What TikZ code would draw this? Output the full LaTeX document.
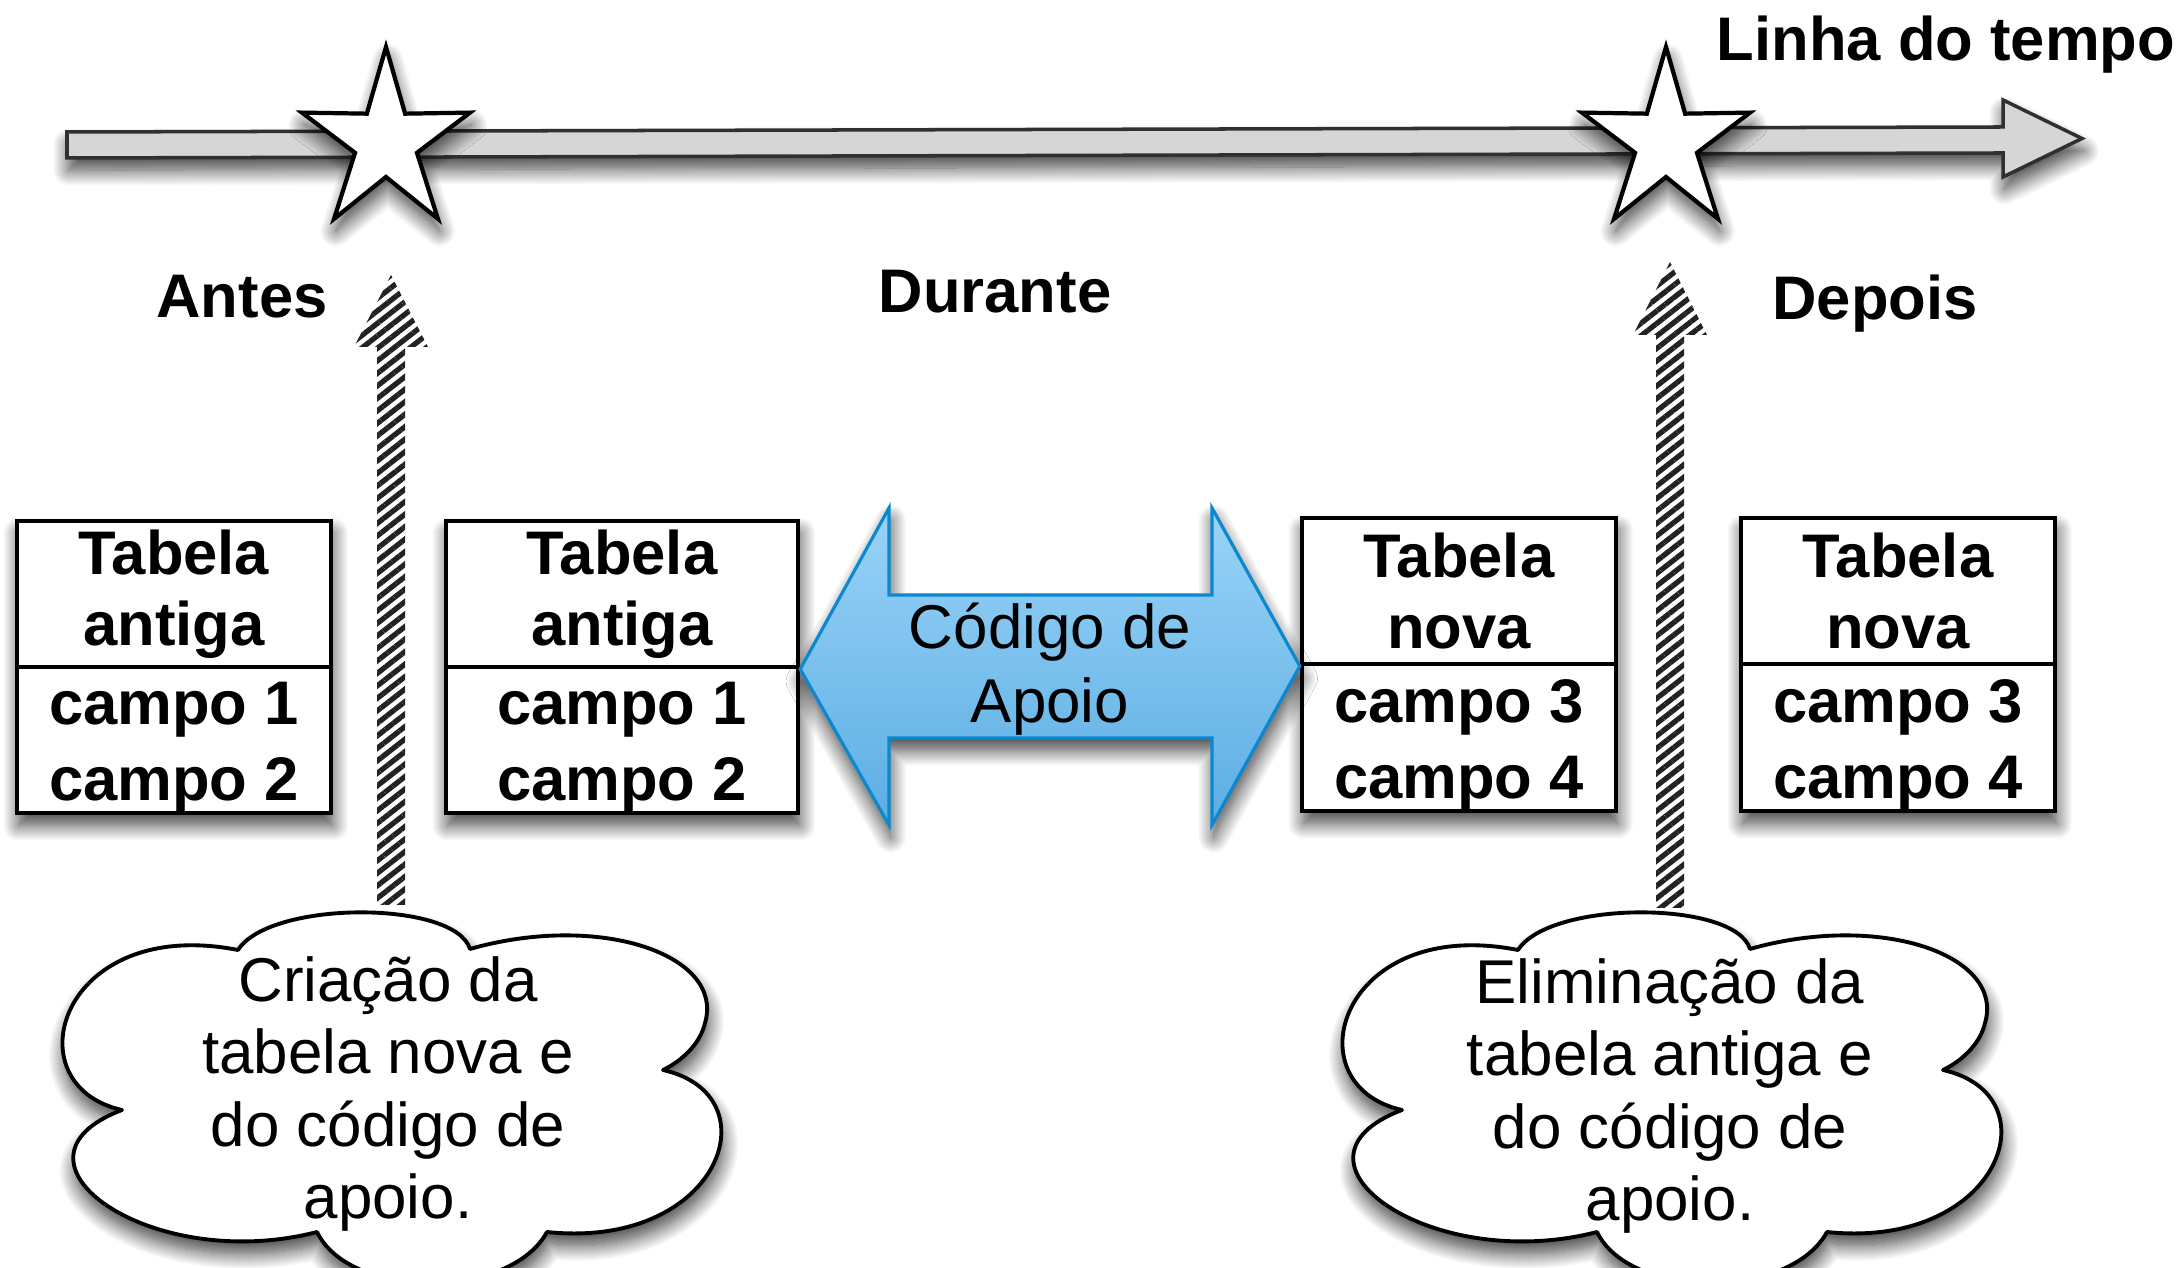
\documentclass[tikz,border=0pt]{standalone}
\usepackage{fontspec}
\setmainfont{Liberation Sans}
\usetikzlibrary{shadows.blur,patterns.meta,calc}
\definecolor{barfill}{HTML}{D6D6D6}
\definecolor{barline}{HTML}{303030}
\definecolor{arrowline}{HTML}{0B88D0}
\definecolor{arrowtop}{HTML}{9AD3F8}
\definecolor{arrowbot}{HTML}{5BAEE3}
\definecolor{stripe}{HTML}{222222}
\newcommand\bodystrut{\rule{0pt}{16.5pt}}
\tikzset{
  softshadow/.style={blur shadow={shadow xshift=0.5pt, shadow yshift=-3.5pt, shadow blur radius=4.5pt, shadow blur steps=16, shadow opacity=75}},
  barstyle/.style={fill=barfill, draw=barline, line width=1pt, line join=miter, softshadow},
  starstyle/.style={fill=white, draw=black, line width=1.2pt, line join=miter, softshadow},
  lbl/.style={font=\bfseries\fontsize{17.5}{21}\selectfont, inner sep=0pt},
  tblbox/.style={draw=black, line width=1.2pt, fill=white, inner sep=0pt, softshadow},
  tblhead/.style={draw=black, line width=1.2pt, fill=white, inner sep=0pt, align=center, font=\bfseries\fontsize{17.5}{20.2}\selectfont},
  tblbody/.style={draw=black, line width=1.2pt, fill=white, inner sep=0pt, align=center, font=\bfseries\fontsize{17.5}{21.6}\selectfont},
  bigarrow/.style={draw=arrowline, line width=0.9pt, line join=miter, top color=arrowtop, bottom color=arrowbot, softshadow},
  arrowtext/.style={font=\fontsize{17.6}{21}\selectfont, align=center, inner sep=0pt},
  stripes/.style={pattern={Lines[angle=38,distance=2.8pt,line width=1.5pt]}, pattern color=stripe},
  cloudstyle/.style={fill=white, draw=black, line width=1.1pt, line join=round, softshadow},
  cloudtext/.style={font=\fontsize{17.6}{20.6}\selectfont, align=center, inner sep=0pt}
}
\newcommand\nuvempath{(122,1110) .. controls (10,1085) and (60,915) .. (238,950)
  .. controls (270,900) and (455,900) .. (470,949)
  .. controls (600,912) and (725,955) .. (705,1023)
  .. controls (700,1045) and (680,1062) .. (663,1070)
  .. controls (775,1095) and (720,1250) .. (547,1232)
  .. controls (510,1300) and (350,1300) .. (317,1232)
  .. controls (150,1275) and (-10,1160) .. (122,1110) -- cycle}
\begin{document}
\begin{tikzpicture}[x=0.01cm,y=-0.01cm]
\useasboundingbox (0,0) rectangle (2184,1268);

% timeline
\draw[barstyle] (67,132) -- (2003,127) -- (2003,100) -- (2082,138.5) -- (2003,177) -- (2003,153) -- (67,158) -- cycle;
\node[lbl, anchor=base] (tl) at (1946,61) {Linha do tempo};

% stars
\coordinate (s1) at (386,142);
\coordinate (s2) at (1666,142);
\begin{scope}[shift={(s1)}, xscale=0.93]
  \draw[starstyle] (-90:95) \foreach \k in {1,...,9}{ -- ({-90+36*\k}:{ifthenelse(mod(\k,2)==1,35,95)}) } -- cycle;
\end{scope}
\begin{scope}[shift={(s2)}, xscale=0.93]
  \draw[starstyle] (-90:95) \foreach \k in {1,...,9}{ -- ({-90+36*\k}:{ifthenelse(mod(\k,2)==1,35,95)}) } -- cycle;
\end{scope}

% phase labels
\node[lbl, anchor=base] (antes) at (242,318) {Antes};
\node[lbl, anchor=base] (durante) at (995,313) {Durante};
\node[lbl, anchor=base] (depois) at (1875,320) {Depois};

% tables
\node[tblbox, minimum width=3.14cm, minimum height=2.92cm] (t1) at (174,667) {};
\node[tblhead, minimum width=3.14cm, minimum height=1.46cm] (t1h) at (174,594) {Tabela\\antiga};
\node[tblbody, minimum width=3.14cm, minimum height=1.46cm] (t1b) at (174,740) {\bodystrut campo 1\\campo 2};

\node[tblbox, minimum width=3.52cm, minimum height=2.92cm] (t2) at (622,667) {};
\node[tblhead, minimum width=3.52cm, minimum height=1.46cm] (t2h) at (622,594) {Tabela\\antiga};
\node[tblbody, minimum width=3.52cm, minimum height=1.46cm] (t2b) at (622,740) {\bodystrut campo 1\\campo 2};

\node[tblbox, minimum width=3.14cm, minimum height=2.93cm] (t3) at (1459,664.5) {};
\node[tblhead, minimum width=3.14cm, minimum height=1.46cm] (t3h) at (1459,591) {Tabela\\nova};
\node[tblbody, minimum width=3.14cm, minimum height=1.47cm] (t3b) at (1459,737.5) {\bodystrut campo 3\\campo 4};

\node[tblbox, minimum width=3.14cm, minimum height=2.93cm] (t4) at (1898,664.5) {};
\node[tblhead, minimum width=3.14cm, minimum height=1.46cm] (t4h) at (1898,591) {Tabela\\nova};
\node[tblbody, minimum width=3.14cm, minimum height=1.47cm] (t4b) at (1898,737.5) {\bodystrut campo 3\\campo 4};

% double arrow (support code)
\coordinate (L) at (t2h.south east);
\coordinate (R) at (t3h.south west);
\draw[bigarrow] (L) -- (889,508) -- (889,595) -- (1212,595) -- (1212,508) -- (R) -- (1212,825) -- (1212,738) -- (889,738) -- (889,825) -- cycle;
\node[arrowtext] (code) at (1050,669) {Código de\\Apoio};

% striped arrows
\coordinate (a1) at (391,905);
\coordinate (a2) at (1670,908);
\path[stripes] (a1) ++(-14,0) -- ++(0,-558) -- ++(-23,0) -- ++(37,-72) -- ++(37,72) -- ++(-23,0) -- ++(0,558) -- cycle;
\path[stripes] (a2) ++(-14,0) -- ++(0,-573) -- ++(-23,0) -- ++(37,-73) -- ++(37,73) -- ++(-23,0) -- ++(0,573) -- cycle;

% clouds
\draw[cloudstyle] \nuvempath;
\begin{scope}[shift={(1280,0)}]
  \draw[cloudstyle] \nuvempath;
\end{scope}
\node[cloudtext] (c1) at (388,1094) {Criação da\\tabela nova e\\do código de\\apoio.};
\node[cloudtext] (c2) at (1670,1096) {Eliminação da\\tabela antiga e\\do código de\\apoio.};
\end{tikzpicture}
\end{document}
